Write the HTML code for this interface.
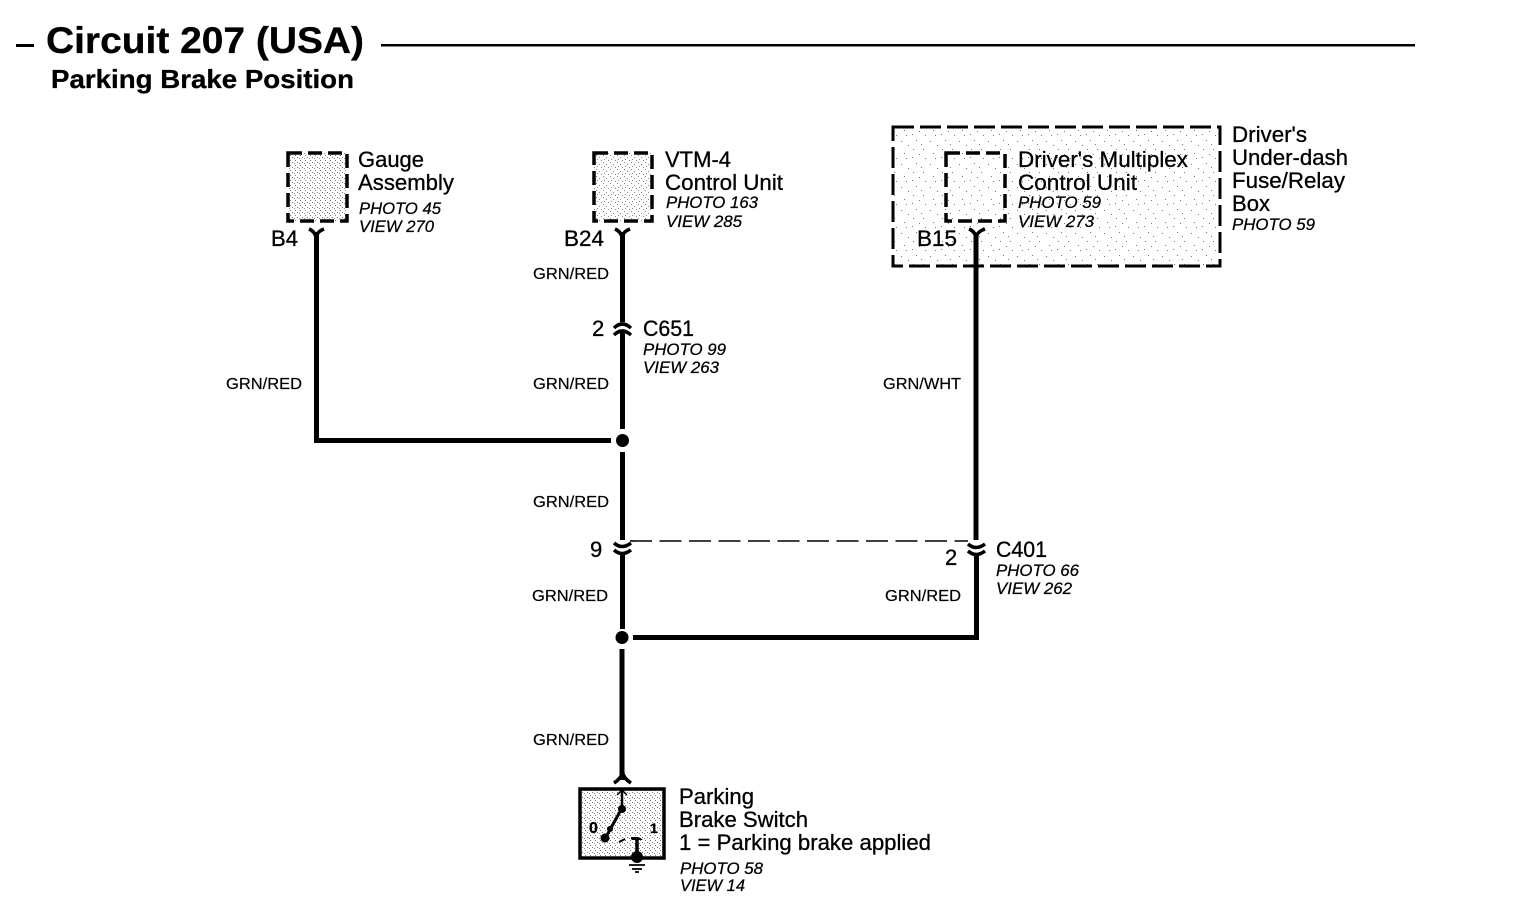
<!DOCTYPE html>
<html><head><meta charset="utf-8"><style>
html,body{margin:0;padding:0;background:#fff}
svg{display:block}
text{font-family:"Liberation Sans",sans-serif;fill:#000;stroke:#000;stroke-width:.3px}
.l{font-size:22px}
.w{font-size:16px;stroke-width:.2px}
.i{font-size:17px;font-style:italic;stroke-width:.25px}
</style></head><body>
<svg width="1520" height="924" viewBox="0 0 1520 924" xmlns="http://www.w3.org/2000/svg">
<defs>
<pattern id="d" width="29" height="23" patternUnits="userSpaceOnUse"><rect width="29" height="23" fill="#fff"/><g fill="#777"><rect x="2" y="3" width="1" height="1"/><rect x="9" y="7" width="1" height="1"/><rect x="17" y="2" width="1" height="1"/><rect x="24" y="11" width="1" height="1"/><rect x="5" y="15" width="1" height="1"/><rect x="13" y="19" width="1" height="1"/><rect x="20" y="16" width="1" height="1"/><rect x="26" y="20" width="1" height="1"/><rect x="14" y="11" width="1" height="1"/><rect x="7" y="20" width="1" height="1"/><rect x="22" y="6" width="1" height="1"/></g></pattern>
<pattern id="m" width="7" height="7" patternUnits="userSpaceOnUse"><rect width="7" height="7" fill="#fff"/><g fill="#888"><rect x="1" y="1" width="1" height="1"/><rect x="4" y="3" width="1" height="1"/><rect x="2" y="5" width="1" height="1"/><rect x="6" y="6" width="1" height="1"/></g></pattern>
<pattern id="e" width="5" height="5" patternUnits="userSpaceOnUse"><rect width="5" height="5" fill="#fff"/><rect x="2" y="2" width="1" height="1" fill="#777"/><rect x="0" y="0" width="1" height="1" fill="#777"/><rect x="4" y="3" width="1" height="1" fill="#888"/></pattern>
</defs>
<!-- title -->
<rect x="16" y="44" width="18" height="3" fill="#000"/>
<rect x="381" y="44" width="1034" height="2.500" fill="#000"/>
<text x="46" y="53" font-size="37" font-weight="bold" textLength="318" lengthAdjust="spacingAndGlyphs">Circuit 207 (USA)</text>
<text x="51" y="88" font-size="26" font-weight="bold" textLength="303" lengthAdjust="spacingAndGlyphs">Parking Brake Position</text>

<!-- big fuse box -->
<rect x="893" y="127" width="327" height="139" fill="url(#d)" stroke="#000" stroke-width="3" stroke-dasharray="21 6"/>
<rect x="946" y="153" width="59" height="68" fill="url(#d)" stroke="#000" stroke-width="3.500" stroke-dasharray="14 6"/>

<!-- small boxes -->
<rect x="288" y="153" width="59" height="68" fill="url(#e)" stroke="#000" stroke-width="3.500" stroke-dasharray="14 6"/>
<rect x="594" y="153" width="58" height="68" fill="url(#m)" stroke="#000" stroke-width="3.500" stroke-dasharray="14 6"/>

<!-- wires -->
<g fill="none" stroke="#000" stroke-linejoin="miter">
<path d="M316.500 232V440.500H611" stroke-width="5"/>
<path d="M622.500 232V322" stroke-width="5"/>
<path d="M622.500 332V429" stroke-width="5"/>
<path d="M622.500 452V540" stroke-width="5"/>
<path d="M622.500 552V629" stroke-width="5"/>
<path d="M622 649V780" stroke-width="5"/>
<path d="M976 236V540" stroke-width="5"/>
<path d="M976.500 555V637.500H633" stroke-width="5"/>
<path d="M630 541H968" stroke-width="1.600" stroke-dasharray="22 7.500"/>
<!-- Y terminals -->
<path d="M309 229Q316 232 316 239Q316 232 324 229" stroke-width="3.500"/>
<path d="M615 229Q622 232 622 239Q622 232 630 229" stroke-width="3.500"/>
<path d="M969 229Q976 232 976 239Q976 232 985 229" stroke-width="3.500"/>
<!-- C651 -->
<path d="M614 328Q622 320 631 328" stroke-width="3.500"/>
<path d="M614 335Q622 327 631 335" stroke-width="3.500"/>
<!-- 9 -->
<path d="M614 543Q622 550 631 543" stroke-width="3.500"/>
<path d="M614 550Q622 557 631 550" stroke-width="3.500"/>
<!-- 2 -->
<path d="M968 544Q976 551 985 544" stroke-width="3.500"/>
<path d="M968 551Q976 558 985 551" stroke-width="3.500"/>
<!-- switch connector -->
<path d="M614 783Q622 778 622.500 771Q623 778 631 783" stroke-width="3.500"/>
</g>
<circle cx="622.500" cy="440.500" r="6.500" fill="#000"/>
<circle cx="622" cy="637.500" r="6.500" fill="#000"/>

<!-- switch -->
<rect x="580" y="789" width="84" height="69" fill="url(#e)" stroke="#000" stroke-width="3.500"/>
<g fill="none" stroke="#000">
<path d="M622 790V808" stroke-width="2.500"/>
<path d="M617 795L622 790L627 795" stroke-width="1.500"/>
<path d="M622 808L606 837" stroke-width="3"/>
<path d="M619 842L625 839M631 838H636" stroke-width="2"/>
<path d="M637 838V857" stroke-width="3.500"/>
<path d="M629 865H645M632 869H642M635 872H639" stroke-width="1.800"/>
</g>
<circle cx="622" cy="809" r="4"/>
<circle cx="610" cy="829" r="3"/>
<circle cx="605" cy="838" r="4.500"/>
<path d="M631 840Q637 834 643 840Z"/>
<circle cx="637" cy="857" r="6"/>
<text x="589" y="833" font-size="16" font-weight="bold">0</text>
<text x="650" y="833" font-size="14" font-weight="bold">1</text>

<!-- labels -->
<text class="l" x="358" y="167" textLength="66" lengthAdjust="spacingAndGlyphs">Gauge</text>
<text class="l" x="358" y="190" textLength="96" lengthAdjust="spacingAndGlyphs">Assembly</text>
<text class="i" x="359" y="214" textLength="82" lengthAdjust="spacingAndGlyphs">PHOTO 45</text>
<text class="i" x="359" y="232" textLength="75" lengthAdjust="spacingAndGlyphs">VIEW 270</text>
<text class="l" x="271" y="246" textLength="27" lengthAdjust="spacingAndGlyphs">B4</text>

<text class="l" x="665" y="167" textLength="66" lengthAdjust="spacingAndGlyphs">VTM-4</text>
<text class="l" x="665" y="190" textLength="118" lengthAdjust="spacingAndGlyphs">Control Unit</text>
<text class="i" x="666" y="208" textLength="92" lengthAdjust="spacingAndGlyphs">PHOTO 163</text>
<text class="i" x="666" y="227" textLength="76" lengthAdjust="spacingAndGlyphs">VIEW 285</text>
<text class="l" x="564" y="246" textLength="40" lengthAdjust="spacingAndGlyphs">B24</text>

<text class="l" x="1018" y="167" textLength="170" lengthAdjust="spacingAndGlyphs">Driver's Multiplex</text>
<text class="l" x="1018" y="190" textLength="119" lengthAdjust="spacingAndGlyphs">Control Unit</text>
<text class="i" x="1018" y="208" textLength="83" lengthAdjust="spacingAndGlyphs">PHOTO 59</text>
<text class="i" x="1018" y="227" textLength="76" lengthAdjust="spacingAndGlyphs">VIEW 273</text>
<text class="l" x="917" y="246" textLength="40" lengthAdjust="spacingAndGlyphs">B15</text>

<text class="l" x="1232" y="142" textLength="75" lengthAdjust="spacingAndGlyphs">Driver's</text>
<text class="l" x="1232" y="165" textLength="116" lengthAdjust="spacingAndGlyphs">Under-dash</text>
<text class="l" x="1232" y="188" textLength="113" lengthAdjust="spacingAndGlyphs">Fuse/Relay</text>
<text class="l" x="1232" y="211" textLength="38" lengthAdjust="spacingAndGlyphs">Box</text>
<text class="i" x="1232" y="230" textLength="83" lengthAdjust="spacingAndGlyphs">PHOTO 59</text>

<text class="w" x="533" y="279" textLength="76" lengthAdjust="spacingAndGlyphs">GRN/RED</text>
<text class="w" x="226" y="389" textLength="76" lengthAdjust="spacingAndGlyphs">GRN/RED</text>
<text class="w" x="533" y="389" textLength="76" lengthAdjust="spacingAndGlyphs">GRN/RED</text>
<text class="w" x="883" y="389" textLength="78" lengthAdjust="spacingAndGlyphs">GRN/WHT</text>
<text class="w" x="533" y="507" textLength="76" lengthAdjust="spacingAndGlyphs">GRN/RED</text>
<text class="w" x="532" y="601" textLength="76" lengthAdjust="spacingAndGlyphs">GRN/RED</text>
<text class="w" x="885" y="601" textLength="76" lengthAdjust="spacingAndGlyphs">GRN/RED</text>
<text class="w" x="533" y="745" textLength="76" lengthAdjust="spacingAndGlyphs">GRN/RED</text>

<text class="l" x="592" y="336">2</text>
<text class="l" x="643" y="336" textLength="51" lengthAdjust="spacingAndGlyphs">C651</text>
<text class="i" x="643" y="355" textLength="83" lengthAdjust="spacingAndGlyphs">PHOTO 99</text>
<text class="i" x="643" y="373" textLength="76" lengthAdjust="spacingAndGlyphs">VIEW 263</text>

<text class="l" x="590" y="557">9</text>
<text class="l" x="945" y="565">2</text>
<text class="l" x="996" y="557" textLength="51" lengthAdjust="spacingAndGlyphs">C401</text>
<text class="i" x="996" y="576" textLength="83" lengthAdjust="spacingAndGlyphs">PHOTO 66</text>
<text class="i" x="996" y="594" textLength="76" lengthAdjust="spacingAndGlyphs">VIEW 262</text>

<text class="l" x="679" y="804" textLength="75" lengthAdjust="spacingAndGlyphs">Parking</text>
<text class="l" x="679" y="827" textLength="129" lengthAdjust="spacingAndGlyphs">Brake Switch</text>
<text class="l" x="679" y="850" textLength="252" lengthAdjust="spacingAndGlyphs">1 = Parking brake applied</text>
<text class="i" x="680" y="874" textLength="83" lengthAdjust="spacingAndGlyphs">PHOTO 58</text>
<text class="i" x="680" y="891" textLength="65" lengthAdjust="spacingAndGlyphs">VIEW 14</text>
</svg>
</body></html>
